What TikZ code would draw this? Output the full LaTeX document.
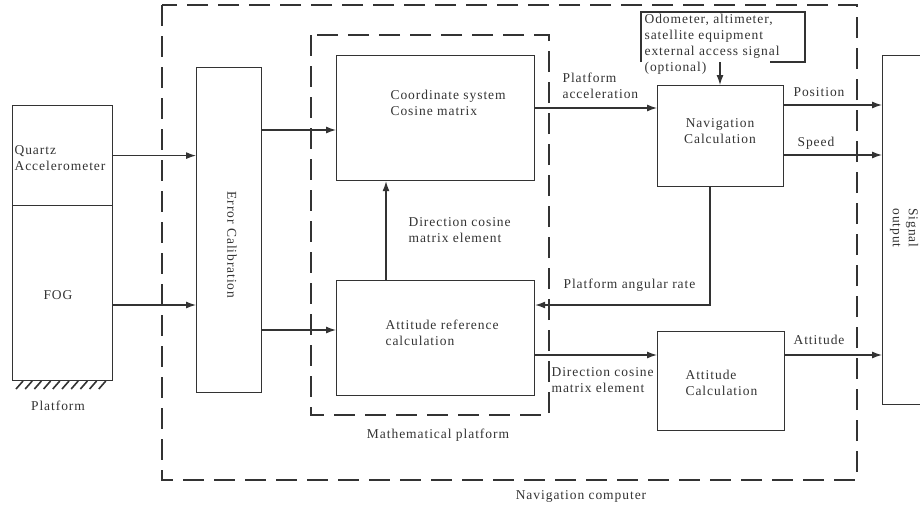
\documentclass[tikz,border=0pt]{standalone}
\usepackage{fontspec}
\setmainfont{Liberation Serif}[LetterSpace=7.0]
\usepackage{tikz}
\usetikzlibrary{arrows.meta}

\definecolor{inkgray}{HTML}{333333}

\begin{document}
\begin{tikzpicture}[x=1pt, y=-1pt, >={Latex[length=10pt,width=7pt]}, line width=1.2pt, inkgray,
	block/.style={draw, anchor=north west, inner sep=0pt},
	txt/.style={align=left, inner sep=0pt, text=inkgray, font=\fontsize{13.5}{16}\selectfont},
	dashbox/.style={draw, line width=2pt, dash pattern=on 21pt off 10pt}]
	\useasboundingbox (0,0) rectangle (920,506);
	\clip (0,0) rectangle (920,506);

	% Dashed frames
	\draw [dashbox] (162,5) rectangle (857,480);
	\draw [dashbox] (311,35) rectangle (549,415);
	\node [txt] (navcomptxt) at (581,496) {Navigation computer};
	\node [txt] (mathtxt)    at (438,435) {Mathematical platform};

	% Nodes {sensors, calibration, blocks}
	\node [block, minimum width=100pt, minimum height=100pt]	(quartz)  at (12,105)  {};
	\node [block, minimum width=100pt, minimum height=175pt]	(fog)     at (12,205)  {};
	\node [block, minimum width=65pt,  minimum height=325pt]	(calib)   at (196,67)  {};
	\node [block, minimum width=198pt, minimum height=125pt]	(coord)   at (336,55)  {};
	\node [block, minimum width=198pt, minimum height=115pt]	(attref)  at (336,280) {};
	\node [block, minimum width=126pt, minimum height=101pt]	(navcalc) at (657,85)  {};
	\node [block, minimum width=127pt, minimum height=99pt]	(attcalc) at (657,331) {};
	\node [block, minimum width=60pt,  minimum height=349pt]	(signal)  at (882,55)  {};

	% Texts in blocks
	\node [txt, anchor=west]	(quartztxt) at (14,158)  {Quartz\\Accelerometer};
	\node [txt]				(fogtxt)    at (58,295)  {FOG};
	\node [txt]				(platftxt)  at (58,406)  {Platform};
	\node [txt, rotate=-90]	(calibtxt)  at (232,245) {Error Calibration};
	\node [txt, anchor=west]	(coordtxt)  at (390,103) {Coordinate system\\Cosine matrix};
	\node [txt, anchor=west]	(attreftxt) at (385,333) {Attitude reference\\calculation};
	\node [txt, align=center]	(navtxt)    at (720,131) {Navigation\\Calculation};
	\node [txt, anchor=west]	(atttxt)    at (685,383) {Attitude\\Calculation};
	\node [txt, rotate=-90, align=center]	(signaltxt) at (904,228) {Signal\\output};

	% Platform hatching
	\foreach \i in {0,...,9}
		\draw [line width=1.6pt] (16+9.2*\i,389) -- (23+9.2*\i,381);

	% External signal box
	\draw (641,62) -- (641,12) -- (805,12) -- (805,62) -- (770,62);
	\node [txt, anchor=north west]	(exttxt) at (644,14) {Odometer, altimeter,\\satellite equipment\\external access signal\\(optional)};
	\coordinate (extout) at (720,62);

	% Paths
	\path [->] (quartz.east) edge (quartz.east -| calib.west);
	\path [->] ([yshift=-100pt]fog.north east) edge ([yshift=-100pt]fog.north east -| calib.west);
	\path [->] ([yshift=-75pt]coord.north west -| calib.east) edge ([yshift=-75pt]coord.north west);
	\path [->] ([yshift=-50pt]attref.north west -| calib.east) edge ([yshift=-50pt]attref.north west);
	\path [->] ([xshift=50pt]attref.north west) edge ([xshift=50pt]coord.south west);
	\path [->] ([yshift=-53pt]coord.north east) edge ([yshift=-53pt]coord.north east -| navcalc.west);
	\path [->] (extout) edge (extout |- navcalc.north);
	\path [->] ([yshift=-20pt]navcalc.north east) edge ([yshift=-20pt]navcalc.north east -| signal.west);
	\path [->] ([yshift=-70pt]navcalc.north east) edge ([yshift=-70pt]navcalc.north east -| signal.west);
	\draw [->] ([xshift=53pt]navcalc.south west) |- ([yshift=-25pt]attref.north east);
	\path [->] ([yshift=-75pt]attref.north east) edge ([yshift=-75pt]attref.north east -| attcalc.west);
	\path [->] ([yshift=-24pt]attcalc.north east) edge ([yshift=-24pt]attcalc.north east -| signal.west);

	% Connector labels
	\node [txt, anchor=west]	(acctxt)    at (562,86)  {Platform\\acceleration};
	\node [txt, anchor=west]	(postxt)    at (793,92)  {Position};
	\node [txt, anchor=west]	(speedtxt)  at (797,143) {Speed};
	\node [txt, anchor=west]	(atdtxt)    at (793,340) {Attitude};
	\node [txt, anchor=west]	(ratetxt)   at (563,285) {Platform angular rate};
	\node [txt, anchor=west]	(dcmtxt)    at (408,230) {Direction cosine\\matrix element};
	\node [txt, anchor=west]	(dcmtxtb)   at (551,380) {Direction cosine\\matrix element};
\end{tikzpicture}
\end{document}
